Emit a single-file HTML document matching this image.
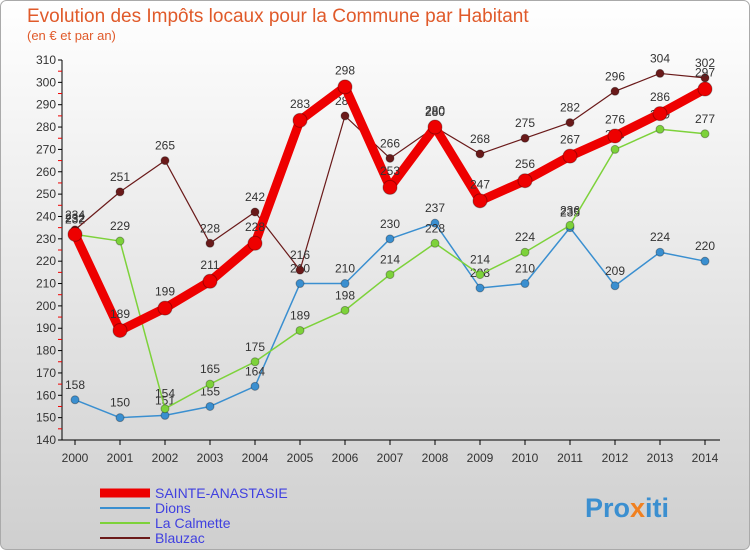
<!DOCTYPE html>
<html><head><meta charset="utf-8"><style>
body{margin:0;width:750px;height:550px;overflow:hidden;font-family:"Liberation Sans",sans-serif}
</style></head><body>
<svg width="750" height="550" xmlns="http://www.w3.org/2000/svg">
<defs><linearGradient id="bg" x1="0" y1="0" x2="0" y2="1"><stop offset="0" stop-color="#ffffff"/><stop offset="1" stop-color="#cfcfcf"/></linearGradient></defs>
<rect x="0.5" y="0.5" width="749" height="549" rx="6" fill="url(#bg)" stroke="#aaa"/>
<text x="27" y="22" font-size="19" fill="#e05a2a">Evolution des Impôts locaux pour la Commune par Habitant</text>
<text x="27" y="40" font-size="13" fill="#e05a2a">(en € et par an)</text>
<g id="axes"></g><g id="series"></g><g id="legend"></g>
<text x="585" y="517" font-size="27" font-weight="bold" fill="#3b8fd0">Pro<tspan fill="#f08020">x</tspan>iti</text>
</svg>
<script>
const years=[2000,2001,2002,2003,2004,2005,2006,2007,2008,2009,2010,2011,2012,2013,2014];
const yTicks=[140,150,160,170,180,190,200,210,220,230,240,250,260,270,280,290,300,310];
const sainte=[232,189,199,211,228,283,298,253,280,247,256,267,276,286,297];
const dions=[158,150,151,155,164,210,210,230,237,208,210,235,209,224,220];
const calmette=[232,229,154,165,175,189,198,214,228,214,224,236,270,279,277];
const blauzac=[234,251,265,228,242,216,285,266,280,268,275,282,296,304,302];
const NS="http://www.w3.org/2000/svg";
const X=i=>75+i*45, Y=v=>440-(v-140)*380/170;
function mk(tag,attrs,parent){const e=document.createElementNS(NS,tag);for(const k in attrs)e.setAttribute(k,attrs[k]);parent.appendChild(e);return e;}
const ax=document.getElementById('axes');
let a=mk('line',{x1:62,y1:60,x2:62,y2:440,stroke:'#000'},ax);


a=mk('line',{x1:62,y1:440,x2:720,y2:440,stroke:'#000'},ax);


yTicks.forEach(v=>{const y=Y(v);
 mk('line',{x1:58,y1:y,x2:62,y2:y,stroke:'#000'},ax);
 if(v<310){mk('line',{x1:58,y1:y-380/34,x2:62,y2:y-380/34,stroke:'#e00'},ax);}
 const t=mk('text',{x:56,y:y+4,'font-size':12,'text-anchor':'end',fill:'#333'},ax);t.textContent=v;
 
 
});
years.forEach((yr,i)=>{const x=X(i);
 mk('line',{x1:x,y1:440,x2:x,y2:445,stroke:'#000'},ax);
 const t=mk('text',{x:x,y:462,'font-size':12,'text-anchor':'middle',fill:'#333'},ax);t.textContent=yr;
 
 
});
const sg=document.getElementById('series');
function series(vals,color,w,r,name){
 const g=mk('g',{},sg);
 
 
 mk('polyline',{points:vals.map((v,i)=>X(i)+','+Y(v)).join(' '),fill:'none',stroke:color,'stroke-width':w,'stroke-linejoin':'round'},g);
 vals.forEach((v,i)=>{const c=mk('circle',{cx:X(i),cy:Y(v),r:r,fill:color,stroke:'rgba(0,0,0,0.3)'},g);
  
  
  const t=mk('text',{x:X(i),y:Y(v)-9-r/2,'font-size':12,'text-anchor':'middle',fill:'#333'},g);t.textContent=v;
  
  });
}
series(dions,'#3a8fd0',1.5,4,'series-dions');
series(calmette,'#7dd23a',1.5,4,'series-la-calmette');
series(blauzac,'#6a1a1a',1.2,4,'series-blauzac');
series(sainte,'#ee0000',9,7,'series-sainte-anastasie');
const lg=document.getElementById('legend');
[['SAINTE-ANASTASIE','#ee0000',9],['Dions','#3a8fd0',2],['La Calmette','#7dd23a',2],['Blauzac','#6a1a1a',2]].forEach((d,i)=>{
 const y=493+i*15;
 const e=mk('g',{},lg);
 
 
 mk('line',{x1:100,y1:y,x2:150,y2:y,stroke:d[1],'stroke-width':d[2]},e);
 const t=mk('text',{x:155,y:y+5,'font-size':14,fill:'#4040e0'},e);t.textContent=d[0];
});
</script>
</body></html>
